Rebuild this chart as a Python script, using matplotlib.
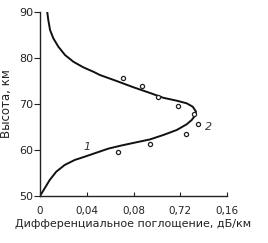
import matplotlib
matplotlib.use("Agg")
import matplotlib.pyplot as plt

# Curve (absorption, altitude) from top to bottom
curve_x = [0.0062, 0.0071, 0.0086, 0.0114, 0.0157, 0.0214, 0.0285, 0.0370, 0.0456,
           0.0513, 0.0650, 0.0798, 0.0941, 0.1055, 0.1170, 0.1255, 0.1307, 0.1335,
           0.1326, 0.1298, 0.1255, 0.1170, 0.1055, 0.0941, 0.0820, 0.0700, 0.0585,
           0.0482, 0.0382, 0.0297, 0.0211, 0.0139, 0.0083, 0.0040, 0.0]
curve_y = [90.0, 88.26, 86.09, 84.28, 82.46, 80.65, 79.20, 77.98, 77.02,
           76.30, 75.05, 73.65, 72.40, 71.35, 70.72, 70.15, 69.41, 68.33,
           67.46, 66.52, 65.59, 64.35, 63.26, 62.30, 61.65, 61.0, 60.3,
           59.41, 58.54, 57.83, 56.74, 55.28, 53.48, 51.67, 50.0]

# Measured points (circles)
pts_x = [0.0708, 0.0870, 0.1012, 0.1183, 0.1320, 0.1354, 0.1249, 0.0941, 0.0670]
pts_y = [75.6, 74.0, 71.5, 69.6, 67.8, 65.6, 63.5, 61.2, 59.6]

xticks = [0, 0.04, 0.08, 0.12, 0.16]
xticklabels = ["0", "0,04", "0,08", "0,72", "0,16"]
yticks = [50, 60, 70, 80, 90]
yticklabels = ["50", "60", "70", "80", "90"]

labels = [("1", 0.040, 60.6), ("2", 0.1445, 65.1)]

fig = plt.figure(figsize=(2.68, 2.43), dpi=100)
ax = fig.add_axes([40/268, 1-196/243, 187/268, 184/243])
tc = "#222222"

ax.plot(curve_x, curve_y, color="#111111", lw=1.4, solid_capstyle="round",
        solid_joinstyle="round")
ax.scatter(pts_x, pts_y, s=9, facecolors="white", edgecolors="#222222", linewidths=0.9, zorder=3)
for t, x, y in labels:
    ax.text(x, y, t, fontsize=8, style="italic", color="#333333", ha="center", va="center")

ax.set_xlim(0, 0.16)
ax.set_ylim(50, 90)
ax.set_xticks(xticks)
ax.set_xticklabels(xticklabels)
ax.set_yticks(yticks)
ax.set_yticklabels(yticklabels)
for s in ["top", "right"]:
    ax.spines[s].set_visible(False)
for s in ["left", "bottom"]:
    ax.spines[s].set_color(tc)
    ax.spines[s].set_linewidth(1.0)
ax.tick_params(axis="x", direction="in", length=3, labelsize=7.5, colors=tc, pad=7)
ax.tick_params(axis="y", direction="out", length=4, labelsize=8, colors=tc, pad=1)
ax.set_xlabel("Дифференциальное поглощение, дБ/км", fontsize=8, color=tc, labelpad=2)
ax.set_ylabel("Высота, км", fontsize=8.5, color=tc, labelpad=4)

fig.savefig("out.png", dpi=100)
